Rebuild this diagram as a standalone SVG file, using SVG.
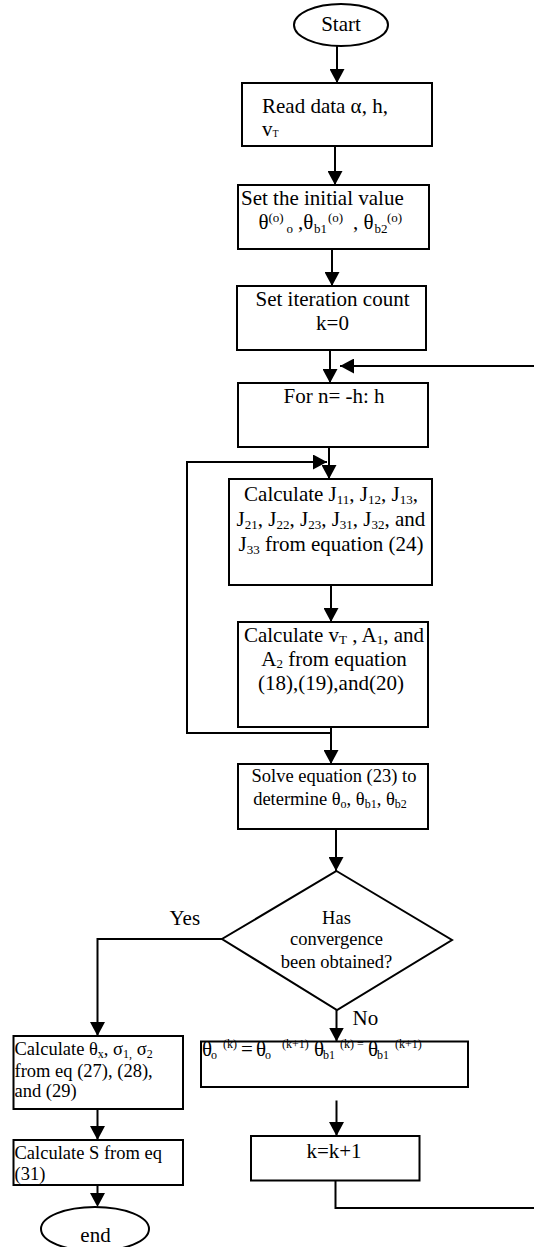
<svg xmlns="http://www.w3.org/2000/svg" width="534" height="1247" viewBox="0 0 534 1247">
<style>
.box{fill:#fff;stroke:#000;stroke-width:2}
.t{font-family:"Liberation Serif","Times New Roman",serif;fill:#000;font-size:21px}
.m{font-size:18.5px}
.s{font-size:13px}
.ss{font-size:12px}
.c{stroke:#000;stroke-width:2;fill:none}
</style>
<defs>
<marker id="ah" markerWidth="14" markerHeight="15" refX="14" refY="7.5" orient="auto" markerUnits="userSpaceOnUse"><path d="M0,0 L14,7.5 L0,15 z" fill="#000"/></marker>
<marker id="ahT" markerWidth="14" markerHeight="15" refX="6" refY="7.5" orient="auto" markerUnits="userSpaceOnUse"><path d="M0,0 L14,7.5 L0,15 z" fill="#000"/></marker>
</defs>

<g id="connectors">
<path class="c" d="M337,46 V83" marker-end="url(#ah)"/>
<path class="c" d="M335,146 V185" marker-end="url(#ah)"/>
<path class="c" d="M332,249 V286" marker-end="url(#ah)"/>
<path class="c" d="M330,350 V383" marker-end="url(#ah)"/>
<path class="c" d="M329,447 V479" marker-end="url(#ah)"/>
<path class="c" d="M331,733 H187 V462 H327" marker-end="url(#ah)"/>
<path class="c" d="M331,585 V622" marker-end="url(#ah)"/>
<path class="c" d="M331,727 V764" marker-end="url(#ah)"/>
<path class="c" d="M336,829 V871" marker-end="url(#ah)"/>
<path class="c" d="M222,939 H97.5 V1036" marker-end="url(#ah)"/>
<path class="c" d="M97.5,1109 V1140" marker-end="url(#ah)"/>
<path class="c" d="M97.5,1185 V1199" stroke-width="4" marker-end="url(#ahT)"/>
<path class="c" d="M336.5,1010 V1041.5" marker-end="url(#ah)"/>
<path class="c" d="M336.5,1100.5 V1136" marker-end="url(#ah)"/>
<path class="c" d="M335.5,1180.5 V1208 H537 V366 H340" marker-end="url(#ah)"/>
<text class="t" x="169.5" y="925" font-size="20">Yes</text>
<text class="t" x="352.5" y="1024.5" font-size="20.5">No</text>
</g>

<g id="start">
<ellipse class="box" cx="341" cy="25" rx="47" ry="21"/>
<text class="t" x="341" y="31" text-anchor="middle" font-size="20.5">Start</text>
</g>

<g id="read">
<rect class="box" x="242" y="83" width="190" height="63"/>
<text class="t" x="262" y="113">Read data α, h,</text>
<text class="t" x="262" y="136" font-size="14">v<tspan font-size="10" dy="1">T</tspan></text>
</g>

<g id="init">
<rect class="box" x="238" y="185" width="191" height="64"/>
<text class="t" x="241" y="205">Set the initial value</text>
<text class="t" y="229"><tspan x="258.5">θ</tspan><tspan class="s" x="268.5" dy="-7.5">(o)</tspan><tspan class="s" x="286.5" dy="11.5">o</tspan><tspan x="298" dy="-4">,θ</tspan><tspan class="s" x="314" dy="4">b1</tspan><tspan class="s" x="328" dy="-11.5">(o)</tspan><tspan x="353" dy="7.5">, θ</tspan><tspan class="s" x="374.5" dy="4">b2</tspan><tspan class="s" x="387" dy="-11.5">(o)</tspan></text>
</g>

<g id="iter">
<rect class="box" x="237" y="286" width="189" height="64"/>
<text class="t" x="332.5" y="306" text-anchor="middle">Set iteration count</text>
<text class="t" x="332.5" y="330" text-anchor="middle">k=0</text>
</g>

<g id="forloop">
<rect class="box" x="238" y="383" width="190" height="64"/>
<text class="t" x="334" y="403" text-anchor="middle">For n= -h: h</text>
</g>

<g id="calcJ">
<rect class="box" x="229" y="479" width="203" height="106"/>
<text class="t" x="331" y="501" text-anchor="middle">Calculate J<tspan class="s" dy="3">11</tspan><tspan dy="-3">, J</tspan><tspan class="s" dy="3">12</tspan><tspan dy="-3">, J</tspan><tspan class="s" dy="3">13</tspan><tspan dy="-3">,</tspan></text>
<text class="t" x="331" y="526" text-anchor="middle">J<tspan class="s" dy="3">21</tspan><tspan dy="-3">, J</tspan><tspan class="s" dy="3">22</tspan><tspan dy="-3">, J</tspan><tspan class="s" dy="3">23</tspan><tspan dy="-3">, J</tspan><tspan class="s" dy="3">31</tspan><tspan dy="-3">, J</tspan><tspan class="s" dy="3">32</tspan><tspan dy="-3">, and</tspan></text>
<text class="t" x="331" y="550.5" text-anchor="middle">J<tspan class="s" dy="3">33</tspan><tspan dy="-3"> from equation (24)</tspan></text>
</g>

<g id="calcV">
<rect class="box" x="238" y="622" width="190" height="105"/>
<text class="t" x="334" y="642" text-anchor="middle">Calculate v<tspan class="s" dy="2">T</tspan><tspan dy="-2"> , A</tspan><tspan class="s" dy="2">1</tspan><tspan dy="-2">, and</tspan></text>
<text class="t" x="334" y="666" text-anchor="middle">A<tspan class="s" dy="2">2</tspan><tspan dy="-2"> from equation</tspan></text>
<text class="t" x="331" y="690" text-anchor="middle">(18),(19),and(20)</text>
</g>

<g id="solve">
<rect class="box" x="238" y="764" width="190" height="65"/>
<text class="t m" x="334" y="782" text-anchor="middle">Solve equation (23) to</text>
<text class="t m" x="330" y="805" text-anchor="middle">determine θ<tspan class="ss" dy="3">o</tspan><tspan dy="-3">, θ</tspan><tspan class="ss" dy="3">b1</tspan><tspan dy="-3">, θ</tspan><tspan class="ss" dy="3">b2</tspan></text>
</g>

<g id="decision">
<polygon class="box" points="336.5,871 452,940 337,1010 222,939"/>
<text class="t m" x="336.5" y="924" text-anchor="middle">Has</text>
<text class="t m" x="336.5" y="945" text-anchor="middle">convergence</text>
<text class="t m" x="336.5" y="968" text-anchor="middle">been obtained?</text>
</g>

<g id="calcTheta">
<rect class="box" x="13.5" y="1036" width="169.5" height="73"/>
<text class="t m" x="14.5" y="1054.5">Calculate θ<tspan class="ss" dy="3">x</tspan><tspan dy="-3">, σ</tspan><tspan class="ss" dy="3">1,</tspan><tspan dy="-3"> σ</tspan><tspan class="ss" dy="3">2</tspan></text>
<text class="t m" x="14.5" y="1076.5">from eq (27), (28),</text>
<text class="t m" x="14.5" y="1097">and (29)</text>
</g>

<g id="calcS">
<rect class="box" x="13.5" y="1140" width="169.5" height="45"/>
<text class="t m" x="14.5" y="1158.5">Calculate S from eq</text>
<text class="t m" x="14.5" y="1179.5">(31)</text>
</g>

<g id="end">
<ellipse class="box" cx="95" cy="1229" rx="54" ry="22"/>
<text class="t" x="95.5" y="1242" text-anchor="middle" font-size="20.5">end</text>
</g>

<g id="update">
<rect class="box" x="201" y="1041.5" width="267" height="45.5"/>
<text class="t" y="1056" font-size="18"><tspan x="202">θ</tspan><tspan class="ss" x="211" dy="3">o</tspan><tspan class="ss" x="223" dy="-11">(k)</tspan><tspan x="241" dy="8">=</tspan><tspan x="256">θ</tspan><tspan class="ss" x="265" dy="3">o</tspan><tspan class="ss" x="282" dy="-11">(k+1)</tspan><tspan x="314" dy="8">θ</tspan><tspan class="ss" x="323" dy="3">b1</tspan><tspan class="ss" x="340" dy="-11">(k) =</tspan><tspan x="368" dy="8">θ</tspan><tspan class="ss" x="377" dy="3">b1</tspan><tspan class="ss" x="395" dy="-11">(k+1)</tspan></text>
</g>

<g id="incr">
<rect class="box" x="251" y="1136" width="168.5" height="44.5"/>
<text class="t" x="334" y="1157.5" text-anchor="middle">k=k+1</text>
</g>
</svg>
